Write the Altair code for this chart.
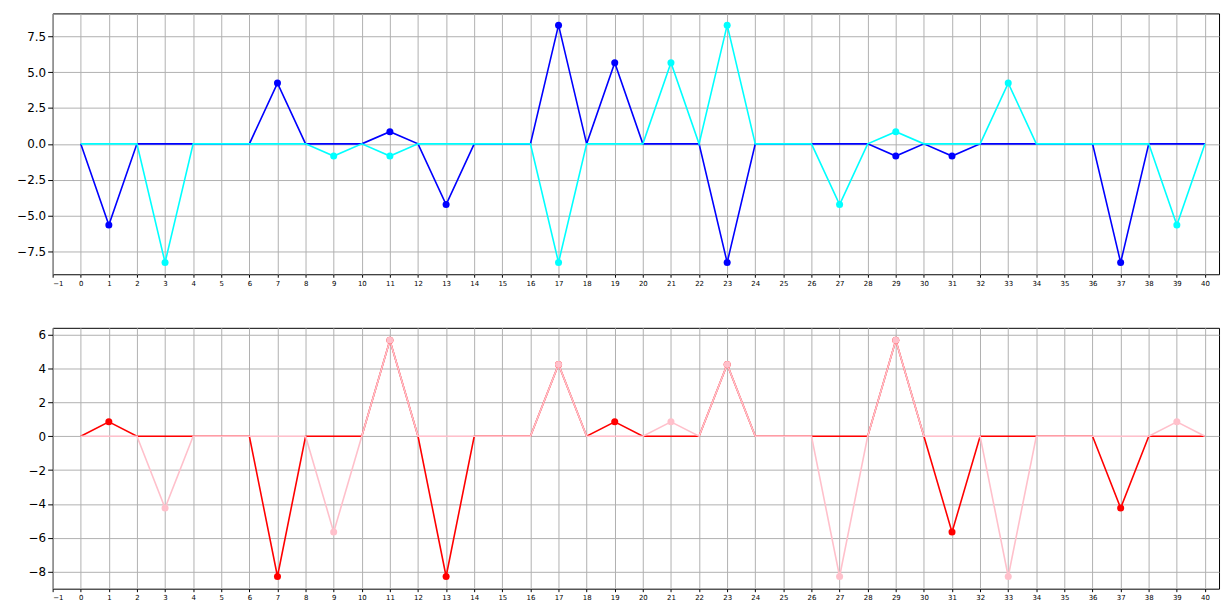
import altair as alt
import pandas as pd

x = list(range(41))

def series(points):
    vals = [0.0] * 41
    for k, v in points.items():
        vals[k] = v
    return vals

blue = series({1: -5.66, 7: 4.24, 11: 0.85, 13: -4.24, 17: 8.28, 19: 5.66,
               23: -8.28, 29: -0.85, 31: -0.85, 37: -8.28})
cyan = series({3: -8.28, 9: -0.85, 11: -0.85, 17: -8.28, 21: 5.66, 23: 8.28,
               27: -4.24, 29: 0.85, 33: 4.24, 39: -5.66})
red = series({1: 0.85, 7: -8.28, 11: 5.66, 13: -8.28, 17: 4.24, 19: 0.85,
              23: 4.24, 29: 5.66, 31: -5.66, 37: -4.24})
pink = series({3: -4.24, 9: -5.66, 11: 5.66, 17: 4.24, 21: 0.85, 23: 4.24,
               27: -8.28, 29: 5.66, 33: -8.28, 39: 0.85})

W, H = 1176, 263


def panel(first, second, c1, c2, ydom, ystep, fmt, gap):
    df = pd.DataFrame({'x': x * 2, 'y': first + second,
                       's': ['a'] * 41 + ['b'] * 41})
    xenc = alt.X('x:Q', scale=alt.Scale(domain=[-1, 40.5], nice=False),
                 axis=alt.Axis(values=list(range(-1, 41)), labelFontSize=7,
                               title=None, grid=True, tickSize=3))
    yenc = alt.Y('y:Q', scale=alt.Scale(domain=ydom, nice=False),
                 axis=alt.Axis(values=[v * ystep for v in range(-4, 5)],
                               format=fmt, labelFontSize=12, title=None,
                               grid=True, minExtent=gap))
    color = alt.Color('s:N', scale=alt.Scale(domain=['a', 'b'], range=[c1, c2]),
                      legend=None)
    order = alt.Order('s:N')
    line = alt.Chart(df).mark_line(strokeWidth=1.6).encode(
        x=xenc, y=yenc, color=color, detail='s:N')
    pts = alt.Chart(df).transform_filter('datum.y != 0').mark_circle(
        size=50, opacity=1).encode(x=xenc, y=yenc, color=color, order=order)
    return alt.layer(line, pts).properties(width=W, height=H)


top = panel(blue, cyan, '#0000ff', '#00ffff', [-9.1, 9.1], 2.5, '.1f', 40)
bottom = panel(red, pink, '#ff0000', '#ffc0cb', [-9.0, 6.4], 2, 'd', 40)

chart = alt.vconcat(top, bottom, spacing=40).resolve_scale(
    color='independent'
).configure_view(
    stroke='black', strokeWidth=1
).configure_axis(
    gridColor='#b0b0b0', gridOpacity=1, domain=False, labelColor='black',
    tickColor='black', labelFont='DejaVu Sans'
).properties(padding={'left': 4, 'top': 2, 'right': 2, 'bottom': 2})

chart.save("out.html", embed_options={"renderer": "svg", "actions": False})
